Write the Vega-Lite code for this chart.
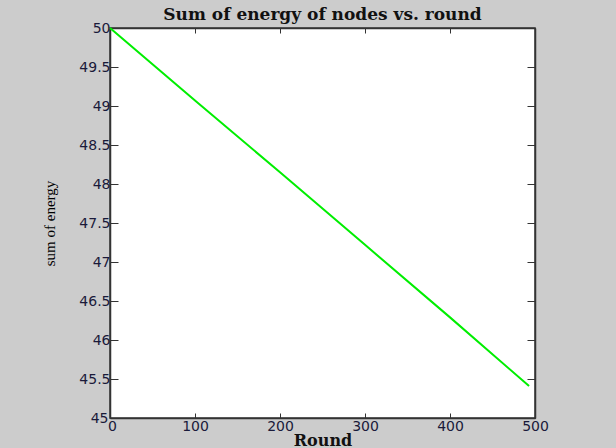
{
  "$schema": "https://vega.github.io/schema/vega-lite/v6.json",
  "width": 425,
  "height": 390,
  "autosize": {"type": "none"},
  "padding": {"left": 110, "top": 28, "right": 81, "bottom": 30},
  "background": "#cccccc",
  "title": {
    "text": "Sum of energy of nodes vs. round",
    "font": "DejaVu Serif",
    "fontSize": 17,
    "fontWeight": "bold",
    "color": "#111111",
    "anchor": "middle",
    "offset": -3
  },
  "config": {
    "view": {"fill": "white", "stroke": "#333333", "strokeWidth": 1.5},
    "axis": {
      "domainColor": "#333333",
      "domainWidth": 1.5,
      "tickColor": "#333333",
      "labelColor": "#1a1a3a",
      "labelFont": "DejaVu Sans",
      "labelFontSize": 14,
      "labelFlush": false,
      "labelOverlap": false,
      "grid": false
    }
  },
  "data": {
    "values": [
      {"round": 0, "energy": 50.0},
      {"round": 100, "energy": 49.07},
      {"round": 200, "energy": 48.15},
      {"round": 300, "energy": 47.22},
      {"round": 400, "energy": 46.29},
      {"round": 493, "energy": 45.41}
    ]
  },
  "layer": [
    {
      "mark": {"type": "line", "color": "#00ee00", "strokeWidth": 2},
      "encoding": {
        "x": {
          "field": "round", "type": "quantitative",
          "scale": {"domain": [0, 500], "nice": false},
          "axis": {
            "orient": "bottom",
            "values": [0, 100, 200, 300, 400, 500],
            "tickSize": -5,
            "title": "Round",
            "titleFont": "DejaVu Serif",
            "titleFontSize": 16,
            "titleFontWeight": "bold",
            "titleColor": "#111111",
            "titlePadding": -1,
            "labelPadding": 6,
            "labelOffset": {"condition": {"test": "datum.value == 0", "value": 2}, "value": 0}
          }
        },
        "y": {
          "field": "energy", "type": "quantitative",
          "scale": {"domain": [45, 50], "nice": false, "zero": false},
          "axis": {
            "orient": "left",
            "values": [45, 45.5, 46, 46.5, 47, 47.5, 48, 48.5, 49, 49.5, 50],
            "format": "~g",
            "tickSize": -8,
            "title": "sum of energy",
            "titleFont": "Liberation Serif",
            "titleFontSize": 15,
            "titleFontWeight": "normal",
            "titleColor": "#000000",
            "titleX": -53,
            "titleY": 195,
            "labelPadding": {"condition": {"test": "datum.value == 45", "value": 10}, "value": 8}
          }
        }
      }
    },
    {
      "mark": {"type": "line", "opacity": 0},
      "encoding": {
        "x": {
          "field": "round", "type": "quantitative",
          "scale": {"domain": [0, 500], "nice": false},
          "axis": {"orient": "top", "values": [0, 100, 200, 300, 400, 500], "tickSize": -5, "labels": false, "title": null}
        },
        "y": {
          "field": "energy", "type": "quantitative",
          "scale": {"domain": [45, 50], "nice": false, "zero": false},
          "axis": {"orient": "right", "values": [45, 45.5, 46, 46.5, 47, 47.5, 48, 48.5, 49, 49.5, 50], "tickSize": -8, "labels": false, "title": null}
        }
      }
    }
  ],
  "resolve": {"axis": {"x": "independent", "y": "independent"}}
}
